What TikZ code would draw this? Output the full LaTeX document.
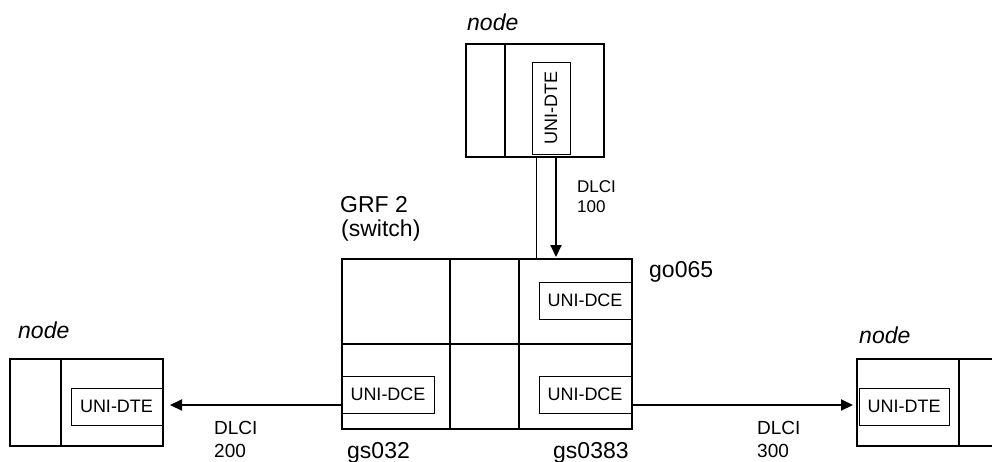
\documentclass[tikz,border=0pt]{standalone}
\usepackage{fontspec}
\setmainfont{Liberation Sans}
\usetikzlibrary{arrows.meta,calc}
\tikzset{
  box/.style={draw, line width=2.5pt, inner sep=0pt, outer sep=0pt, anchor=north west},
  ibox/.style={draw, line width=1pt, inner sep=0pt, outer sep=0pt, anchor=north west,
    font=\fontsize{18}{18}\selectfont},
  lbl/.style={anchor=base west, inner sep=0pt, font=\fontsize{23}{23}\selectfont},
  nlbl/.style={anchor=base west, inner sep=0pt, font=\fontsize{23}{23}\selectfont\itshape},
  dlt/.style={anchor=north west, inner sep=0pt, align=left, font=\fontsize{17}{20}\selectfont},
  dlb/.style={anchor=north west, inner sep=0pt, align=left, font=\fontsize{19}{23}\selectfont},
  conn/.style={line width=2pt, -{Triangle[length=12pt,width=11pt]}},
  div/.style={line width=2.5pt},
  thin/.style={line width=1pt},
}
\begin{document}
\begin{tikzpicture}[x=1pt,y=-1pt]
\useasboundingbox (0,0) rectangle (992,461);
\clip (0,0) rectangle (992,461);

% top node
\node[box, minimum width=138pt, minimum height=113pt] (tn) at (466,44) {};
\draw[div] (tn.north west) ++(39,0) -- ++(0,113);
\node[ibox, minimum width=38pt, minimum height=92pt] (tdte) at (532,62) {\rotatebox{90}{UNI-DTE}};
\node[nlbl] (tnl) at (467,30) {node};

% switch
\node[box, minimum width=290pt, minimum height=170pt] (sw) at (342,259) {};
\draw[div] (sw.north west) ++(0,85) -- ++(290,0);
\draw[div] (sw.north west) ++(108,0) -- ++(0,170);
\draw[div] (sw.north west) ++(177,0) -- ++(0,170);
\node[ibox, minimum width=92pt, minimum height=37pt] (dce1) at (539,282) {UNI-DCE};
\node[ibox, minimum width=92pt, minimum height=37pt] (dce2) at (539,376) {UNI-DCE};
\node[ibox, minimum width=92pt, minimum height=37pt] (dce3) at (342,376) {UNI-DCE};
\node[lbl] (grf) at (340,212) {GRF 2};
\node[lbl] (swl) at (341,236) {(switch)};
\node[lbl] (go) at (649,277) {go065};
\node[lbl] (gs1) at (347,458) {gs032};
\node[lbl] (gs2) at (553,458) {gs0383};

% left node
\node[box, minimum width=153pt, minimum height=87pt] (ln) at (10,359) {};
\draw[div] (ln.north west) ++(51,0) -- ++(0,87);
\node[ibox, minimum width=91pt, minimum height=37pt] (ldte) at (71,388) {UNI-DTE};
\node[nlbl] (lnl) at (18,338) {node};

% right node
\node[box, minimum width=150pt, minimum height=87pt] (rn) at (857,359) {};
\draw[div] (rn.north west) ++(102,0) -- ++(0,87);
\node[ibox, minimum width=90pt, minimum height=37pt] (rdte) at (859,388) {UNI-DTE};
\node[nlbl] (rnl) at (859,343) {node};

% connectors
\coordinate (xthin) at (536,0);
\coordinate (xarr) at (556,0);
\coordinate (yarr) at (0,405);
\draw[thin] (tn.south -| xthin) -- (sw.north -| xthin);
\draw[conn, shorten >=2pt] (tn.south -| xarr) -- (sw.north -| xarr);
\draw[conn, shorten >=7pt] (sw.west |- yarr) -- (ln.east |- yarr);
\draw[conn, shorten >=4pt] (sw.east |- yarr) -- (rn.west |- yarr);

% DLCI labels
\node[dlt] (d100) at (577,180) {DLCI\\100};
\node[dlb] (d200) at (214,421.5) {DLCI\\200};
\node[dlb] (d300) at (757,421.5) {DLCI\\300};
\end{tikzpicture}
\end{document}
